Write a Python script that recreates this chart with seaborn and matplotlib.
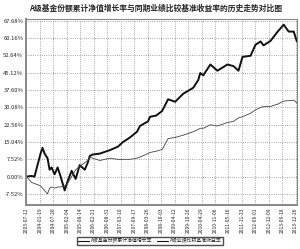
import seaborn as sns
import pandas as pd
import numpy as np
import matplotlib.pyplot as plt
from matplotlib.lines import Line2D

dates = ['2003-07-12','2003-09-21','2003-11-03','2003-12-16','2004-01-28','2004-02-25','2004-03-25',
         '2004-05-06','2004-06-04','2004-07-02','2004-08-14','2004-09-26','2004-11-08','2005-01-04',
         '2005-02-15','2005-04-13','2005-06-09','2005-08-05','2005-10-16','2005-11-27','2005-12-26',
         '2006-02-07','2006-05-17','2006-10-07','2007-01-29','2007-04-10','2007-07-19','2007-10-27',
         '2007-12-08','2008-03-31','2008-04-29','2008-07-23','2008-10-17','2009-01-10','2009-04-20',
         '2009-08-12','2010-01-02','2010-03-14','2010-04-11','2010-05-24','2010-09-01','2010-12-10',
         '2011-05-01','2011-07-26','2011-10-05','2011-12-01','2012-03-24','2012-06-03','2012-08-13',
         '2012-09-25','2013-01-03','2013-04-13','2013-07-07','2013-09-16','2013-11-27','2014-01-10']
fund = [0, 0.3, 0, 5, 10, 12.5, 10, 8, 3, 4, 1, 4, 0, -6, -2, 2.5, -1, 5, 3, 6, 9,
        9.6, 10, 11.5, 13, 15, 17, 19.5, 22, 24, 26, 26.5, 28.5, 33.6, 32.5, 36, 38.6, 42,
        45, 44, 48.7, 46, 48.7, 48, 46, 52, 52.5, 57.3, 58.7, 57, 59, 63, 66, 63, 63, 58.7]
bench = [0, -2.5, -3, -3.5, -4, -5, -6, -7.5, -5, -4.5, -5, -4.5, -4.5, -4, -3, 0, 3, 4.5, 6, 7, 8.5,
         8, 7, 8, 7.5, 7.5, 7.5, 8, 8.5, 10, 10.5, 11, 11.8, 16.5, 17, 18, 19.5, 20.5,
         21, 21, 22.5, 22, 23.5, 24, 25.5, 26, 27.5, 29, 30, 30.5, 30.5, 31.5, 32.8, 33, 33.2, 32]

x_ticks = ['2003-07-12','2004-01-19','2004-07-28','2005-02-04','2005-08-14','2006-02-21','2006-08-31',
           '2007-03-10','2007-09-17','2008-03-26','2008-10-03','2009-04-12','2009-10-20','2010-04-29',
           '2010-11-06','2011-05-16','2011-11-23','2012-06-01','2012-12-09','2013-06-18','2013-12-26']
y_ticks = [-7.52, 0.00, 7.52, 15.04, 22.56, 30.08, 37.60, 45.12, 52.64, 60.16, 67.68]

names = ['A级基金份额累计净值增长率', 'A级业绩比较基准收益率']
title = 'A级基金份额累计净值增长率与同期业绩比较基准收益率的历史走势对比图'

df = pd.DataFrame({'date': pd.to_datetime(dates), names[0]: fund, names[1]: bench})
long = df.melt(id_vars='date', var_name='series', value_name='rate')

sns.set_style('white')
plt.rcParams['font.family'] = ['Noto Sans CJK SC', 'DejaVu Sans']

fig = plt.figure(figsize=(3.0, 2.49), dpi=100)
ax = fig.add_axes([0.087, 0.177, 0.903, 0.747])
sns.lineplot(data=long, x='date', y='rate', hue='series', size='series',
             palette=['#111111', '#444444'], sizes=[1.4, 0.6], ax=ax, legend=False)

xt = pd.to_datetime(x_ticks)
ax.set_xticks(xt)
ax.set_xticklabels(x_ticks, rotation=90, fontsize=3.6)
ax.set_xlim(xt[0] - pd.Timedelta(days=5), pd.Timestamp('2014-01-12'))
ax.set_yticks(y_ticks)
ax.set_yticklabels([f'{v:.2f}%' for v in y_ticks], fontsize=4.2)
ax.set_ylim(-12.3, 68.5)
ax.set_xlabel('')
ax.set_ylabel('')
ax.tick_params(length=0, pad=2)
ax.grid(True, linestyle=':', color='#888888', linewidth=0.6)
for s in ax.spines.values():
    s.set_color('#888888')
    s.set_linewidth(0.8)
ax.spines['left'].set_linewidth(1.4)
ax.spines['bottom'].set_linewidth(1.4)

fig.text(0.52, 0.965, title, ha='center', va='center', fontsize=5.6, fontweight='bold')

handles = [Line2D([], [], color='#111111', lw=0.8), Line2D([], [], color='#111111', lw=0.8)]
fig.legend(handles, names, loc='center', bbox_to_anchor=(0.5, 0.032), ncol=2, fontsize=3.5,
           frameon=True, fancybox=False, edgecolor='#222222', handlelength=2.2,
           columnspacing=1.0, borderpad=0.3, handletextpad=0.4)

fig.savefig('out.png', dpi=100)
